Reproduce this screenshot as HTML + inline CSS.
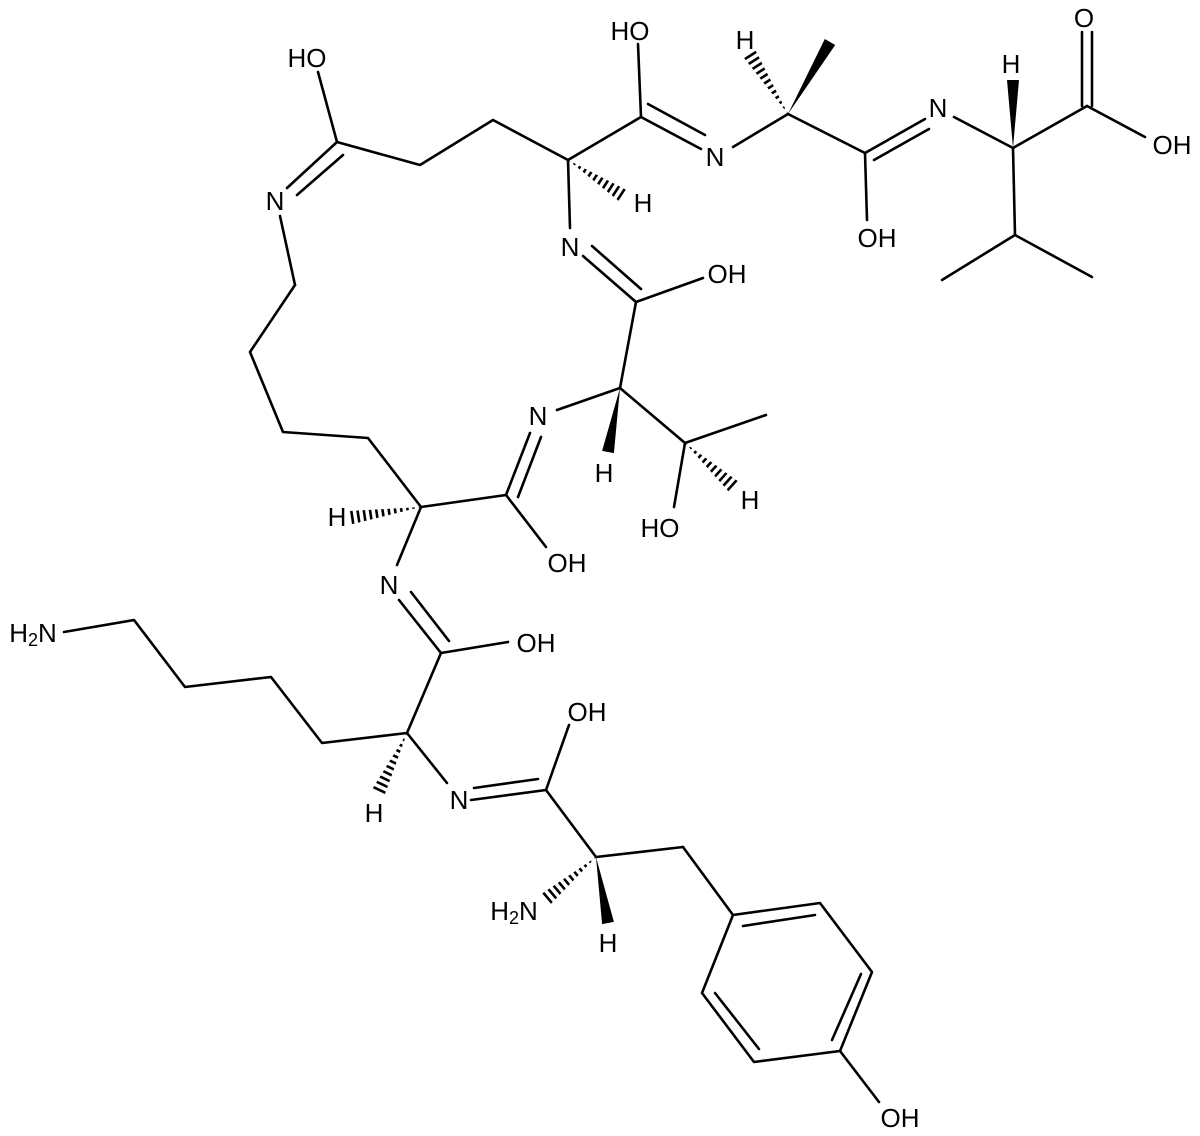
<!DOCTYPE html>
<html><head><meta charset="utf-8"><style>
html,body{margin:0;padding:0;background:#fff;}
svg{display:block;}
text{font-family:"Liberation Sans",Arial,sans-serif;font-size:26px;fill:#000;text-anchor:middle;dominant-baseline:central;}
</style></head><body>
<svg width="1200" height="1136" viewBox="0 0 1200 1136" xmlns="http://www.w3.org/2000/svg">
<defs>
<clipPath id="h1"><polygon points="568,160 621.2,202.9 628.8,191.1"/></clipPath>
<clipPath id="h2"><polygon points="788,114 754.9,49.2 743.1,56.8"/></clipPath>
<clipPath id="h3"><polygon points="421,507 346.96,511.1 349.04,524.9"/></clipPath>
<clipPath id="h4"><polygon points="685,443 729.3,492.2 738.7,481.8"/></clipPath>
<clipPath id="h5"><polygon points="407,733 371.7,789.95 384.3,796.05"/></clipPath>
<clipPath id="h6"><polygon points="596,857 540.5,894.65 549.5,905.35"/></clipPath>
</defs>
<g stroke="#000" stroke-width="2.6" fill="none" stroke-linecap="round" stroke-linejoin="round">
<!-- top left -->
<line x1="318" y1="72" x2="337" y2="142"/>
<line x1="337" y1="142" x2="287" y2="188"/>
<line x1="343" y1="155" x2="297" y2="195"/>
<line x1="280" y1="216" x2="295" y2="285"/>
<polyline points="295,285 250,352 283,432 368,438 421,507"/>
<polyline points="337,142 420,165 493,120 568,160 641,117"/>
<line x1="641" y1="117" x2="638" y2="44"/>
<line x1="641" y1="117" x2="701" y2="149"/>
<line x1="648" y1="104" x2="705" y2="135"/>
<line x1="733" y1="147" x2="788" y2="114"/>
<line x1="568" y1="160" x2="570" y2="228"/>
<line x1="583" y1="256" x2="636" y2="302"/>
<line x1="592" y1="246" x2="641" y2="289"/>
<line x1="636" y1="302" x2="703" y2="278"/>
<!-- ala/val -->
<line x1="788" y1="114" x2="865" y2="153"/>
<line x1="865" y1="153" x2="925" y2="119"/>
<line x1="874" y1="160" x2="929" y2="129"/>
<line x1="865" y1="153" x2="867" y2="220"/>
<line x1="954" y1="117" x2="1013" y2="148"/>
<line x1="1013" y1="148" x2="1087" y2="106"/>
<line x1="1082" y1="106" x2="1082" y2="32"/>
<line x1="1092" y1="106" x2="1092" y2="32"/>
<line x1="1087" y1="106" x2="1145" y2="137"/>
<line x1="1013" y1="148" x2="1015" y2="235"/>
<line x1="1015" y1="235" x2="942" y2="280"/>
<line x1="1015" y1="235" x2="1092" y2="277"/>
<!-- thr -->
<line x1="620" y1="388" x2="636" y2="302"/>
<line x1="557" y1="410" x2="620" y2="388"/>
<line x1="620" y1="388" x2="685" y2="443"/>
<line x1="685" y1="443" x2="766" y2="415"/>
<line x1="685" y1="443" x2="674" y2="507"/>
<!-- lys in ring -->
<line x1="421" y1="507" x2="506" y2="495"/>
<line x1="506" y1="495" x2="530" y2="433"/>
<line x1="518" y1="497" x2="541" y2="437"/>
<line x1="506" y1="495" x2="546" y2="547"/>
<line x1="421" y1="507" x2="397" y2="565"/>
<!-- lys 2 -->
<line x1="399" y1="600" x2="441" y2="653"/>
<line x1="411" y1="592" x2="449" y2="641"/>
<line x1="441" y1="653" x2="508" y2="642"/>
<line x1="441" y1="653" x2="407" y2="733"/>
<polyline points="407,733 322,743 271,677 185,687 134,620 64,632"/>
<line x1="407" y1="733" x2="447" y2="783"/>
<line x1="471" y1="800" x2="546" y2="790"/>
<line x1="474" y1="788" x2="538" y2="779"/>
<line x1="546" y1="790" x2="569" y2="725"/>
<line x1="546" y1="790" x2="596" y2="857"/>
<!-- tyr -->
<line x1="596" y1="857" x2="683" y2="847"/>
<line x1="683" y1="847" x2="733" y2="915"/>
<polygon points="733,915 820,903 872,972 840,1051 754,1062 702,993"/>
<line x1="743" y1="926" x2="815" y2="915"/>
<line x1="861" y1="974" x2="832" y2="1040"/>
<line x1="759" y1="1049" x2="715" y2="993"/>
<line x1="840" y1="1051" x2="879" y2="1102"/>
</g>
<!-- hashes -->
<g stroke="#000" stroke-width="18" stroke-dasharray="2.6 3.6" fill="none">
<line x1="568" y1="160" x2="625" y2="197" clip-path="url(#h1)"/>
<line x1="788" y1="114" x2="749" y2="53" clip-path="url(#h2)"/>
<line x1="421" y1="507" x2="348" y2="518" clip-path="url(#h3)"/>
<line x1="685" y1="443" x2="734" y2="487" clip-path="url(#h4)"/>
<line x1="407" y1="733" x2="378" y2="793" clip-path="url(#h5)"/>
<line x1="596" y1="857" x2="545" y2="900" clip-path="url(#h6)"/>
</g>
<!-- wedges -->
<g fill="#000">
<polygon points="788,114 835.2,45 824.8,39"/>
<polygon points="1013,148 1019,80 1007,80"/>
<polygon points="620,388 613.9,453.1 602.1,450.9"/>
<polygon points="596,857 613.9,921.9 602.1,924.1"/>
</g>
<!-- labels -->
<text x="307" y="58">HO</text>
<text x="275" y="201">N</text>
<text x="630" y="31">HO</text>
<text x="715" y="157">N</text>
<text x="643" y="203">H</text>
<text x="570" y="247">N</text>
<text x="727" y="274">OH</text>
<text x="745" y="40">H</text>
<text x="938" y="108">N</text>
<text x="877" y="238">OH</text>
<text x="1011" y="64">H</text>
<text x="1084" y="18">O</text>
<text x="1172" y="145">OH</text>
<text x="538" y="416">N</text>
<text x="604" y="473">H</text>
<text x="660" y="528">HO</text>
<text x="750" y="500">H</text>
<text x="337" y="517">H</text>
<text x="567" y="563">OH</text>
<text x="389" y="585">N</text>
<text x="536" y="643">OH</text>
<text x="374" y="813">H</text>
<text x="459" y="800">N</text>
<text x="587" y="712">OH</text>
<text x="33" y="633">H<tspan font-size="18" dy="7">2</tspan><tspan dy="-7">N</tspan></text>
<text x="514" y="911">H<tspan font-size="18" dy="7">2</tspan><tspan dy="-7">N</tspan></text>
<text x="608" y="943">H</text>
<text x="900" y="1118">OH</text>
</svg>
</body></html>
